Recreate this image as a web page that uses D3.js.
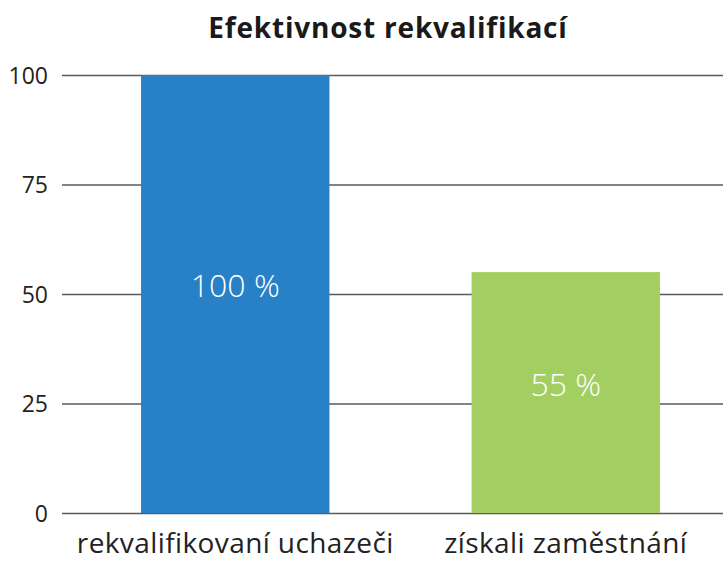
<!DOCTYPE html>
<html><head><meta charset="utf-8">
<script src="https://cdn.jsdelivr.net/npm/d3@7"></script>
<style>body{margin:0;background:#fff}svg{display:block}text{font-family:"Open Sans",sans-serif}</style>
</head><body>
<script>
const categories = ["rekvalifikovaní uchazeči", "získali zaměstnání"];
const values = [100, 55];
const barLabels = ["100 %", "55 %"];
const colors = ["#2881c6", "#a3cf62"];
const yTicks = [0, 25, 50, 75, 100];
const title = "Efektivnost rekvalifikací";

const W = 723, H = 561;
const svg = d3.select("body").append("svg").attr("width", W).attr("height", H);
const y = d3.scaleLinear().domain([0, 100]).range([513, 75]);
const x = d3.scaleBand().domain(categories).range([70, 731]).paddingInner(0.43).paddingOuter(0.215);

const yAxis = d3.axisLeft(y).tickValues(yTicks).tickSize(-(723 - 62)).tickPadding(14).tickFormat(d3.format("d"));
const gy = svg.append("g").attr("transform", "translate(62,0)").call(yAxis);
gy.select(".domain").remove();
gy.selectAll(".tick line").attr("stroke", "#5a5a5a").attr("stroke-width", 1.6).attr("x2", 723 - 62);
gy.selectAll(".tick text").attr("fill", "#222").style("font-size", "23px").attr("x", -14).attr("dy", "0.36em");

svg.selectAll("rect.bar").data(values).join("rect").attr("class", "bar")
  .attr("x", (d, i) => x(categories[i])).attr("width", x.bandwidth())
  .attr("y", d => y(d)).attr("height", d => y(0) - y(d))
  .attr("fill", (d, i) => colors[i]);

svg.selectAll("text.lbl").data(values).join("text").attr("class", "lbl")
  .attr("x", (d, i) => x(categories[i]) + x.bandwidth() / 2)
  .attr("y", d => (y(d) + y(0)) / 2 + 3)
  .attr("text-anchor", "middle").attr("fill", "#fff").style("font-size", "32px").style("font-weight", "300")
  .text((d, i) => barLabels[i]);

const xAxis = d3.axisBottom(x).tickSize(0);
const gx = svg.append("g").attr("transform", "translate(0,513)").call(xAxis);
gx.select(".domain").remove();
gx.selectAll(".tick text").attr("fill", "#222").attr("y", 40).attr("dy", 0)
  .style("font-size", "28px").style("letter-spacing", "0.4px");

svg.append("text").attr("x", 388).attr("y", 38).attr("text-anchor", "middle")
  .attr("fill", "#1a1a1a").style("font-size", "28px").style("font-weight", "bold").style("letter-spacing", "0.8px").text(title);
</script>
</body></html>
